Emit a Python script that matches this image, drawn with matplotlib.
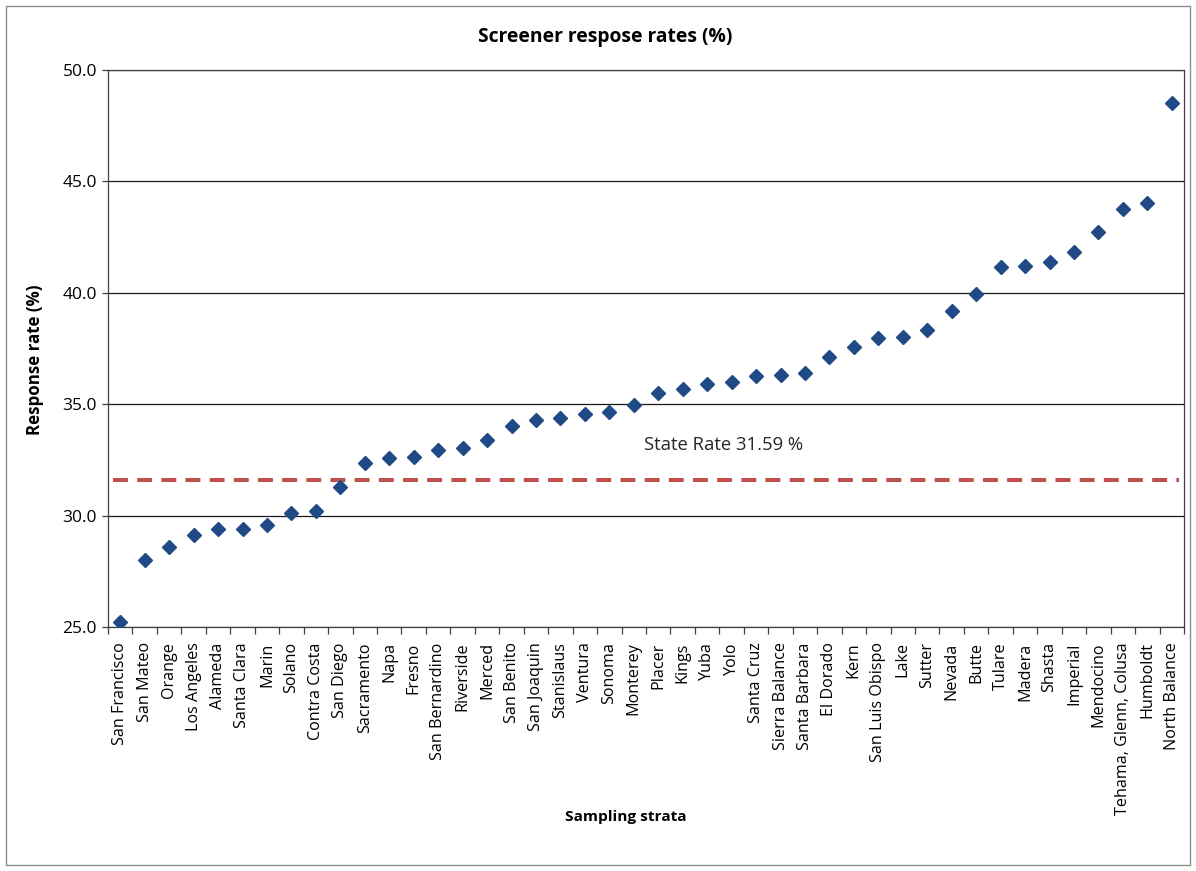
import matplotlib
matplotlib.use("Agg")
import matplotlib.pyplot as plt
from matplotlib.patches import Rectangle
from matplotlib.ticker import FixedLocator

plt.rcParams['font.family'] = ['Open Sans', 'DejaVu Sans']

strata = [
    "San Francisco", "San Mateo", "Orange", "Los Angeles", "Alameda", "Santa Clara",
    "Marin", "Solano", "Contra Costa", "San Diego", "Sacramento", "Napa", "Fresno",
    "San Bernardino", "Riverside", "Merced", "San Benito", "San Joaquin", "Stanislaus",
    "Ventura", "Sonoma", "Monterey", "Placer", "Kings", "Yuba", "Yolo", "Santa Cruz",
    "Sierra Balance", "Santa Barbara", "El Dorado", "Kern", "San Luis Obispo", "Lake",
    "Sutter", "Nevada", "Butte", "Tulare", "Madera", "Shasta", "Imperial", "Mendocino",
    "Tehama, Glenn, Colusa", "Humboldt", "North Balance",
]
response_rate = [
    25.21, 28.01, 28.60, 29.14, 29.38, 29.38, 29.56, 30.13, 30.19, 31.27, 32.37,
    32.60, 32.62, 32.93, 33.02, 33.39, 34.01, 34.31, 34.39, 34.55, 34.64, 34.96,
    35.49, 35.68, 35.91, 36.01, 36.28, 36.33, 36.40, 37.13, 37.55, 37.99, 38.03,
    38.33, 39.18, 39.93, 41.17, 41.20, 41.40, 41.82, 42.72, 43.78, 44.05, 48.51,
]
state_rate = 31.59
y_ticks = [25.0, 30.0, 35.0, 40.0, 45.0, 50.0]

fig = plt.figure(figsize=(11.96, 8.71), dpi=100)
ax = fig.add_axes([108 / 1196, 1 - 627 / 871, (1184 - 108) / 1196, (627 - 70) / 871])

# outer chart border
fig.patches.append(Rectangle((6 / 1196, 6 / 871), 1184 / 1196, 859 / 871,
                             transform=fig.transFigure, fill=False,
                             edgecolor='#8c8c8c', linewidth=1.0))

x = list(range(len(strata)))
ax.plot(x, response_rate, linestyle='none', marker='D', markersize=7.5,
        color='#1F4A85', zorder=3)
ax.axhline(state_rate, color='#C0504D', linewidth=2.9, dashes=(3.7, 2.3),
           xmin=0.005, xmax=0.995, zorder=2)
ax.text(21.4, 33.17, f"State Rate {state_rate} %", fontsize=13.3,
        color='#262626', ha='left', va='center')

ax.set_xlim(-0.5, len(strata) - 0.5)
ax.set_ylim(25, 50)
ax.set_yticks(y_ticks)
ax.set_yticklabels([f"{v:.1f}" for v in y_ticks], fontsize=12.5)
ax.yaxis.grid(True, color='#1a1a1a', linewidth=0.9)
ax.set_axisbelow(True)

ax.set_xticks(x)
ax.set_xticklabels(strata, rotation=90, fontsize=11.6)
ax.xaxis.set_minor_locator(FixedLocator([i - 0.5 for i in range(len(strata) + 1)]))
ax.tick_params(axis='x', which='major', length=0, pad=11)
ax.tick_params(axis='x', which='minor', length=5, width=0.9, color='#404040')
ax.tick_params(axis='y', length=4, width=0.9, color='#404040', pad=4)

for side in ['left', 'bottom', 'right', 'top']:
    ax.spines[side].set_color('#404040')
    ax.spines[side].set_linewidth(0.9)

fig.text(605.5 / 1196, 1 - 37 / 871, "Screener respose rates (%)", fontsize=13.9,
         fontweight='bold', ha='center', va='center')
ax.set_ylabel("Response rate (%)", fontsize=12.2, fontweight='bold')
ax.yaxis.set_label_coords((35 - 108) / 1076, (627 - 360) / 557)
ax.set_xlabel("Sampling strata", fontsize=11.1, fontweight='bold')
ax.xaxis.set_label_coords((626 - 108) / 1076, (627 - 817) / 557)
ax.xaxis.label.set_va('center')
ax.yaxis.label.set_va('center')

fig.savefig("out.png", dpi=100)
